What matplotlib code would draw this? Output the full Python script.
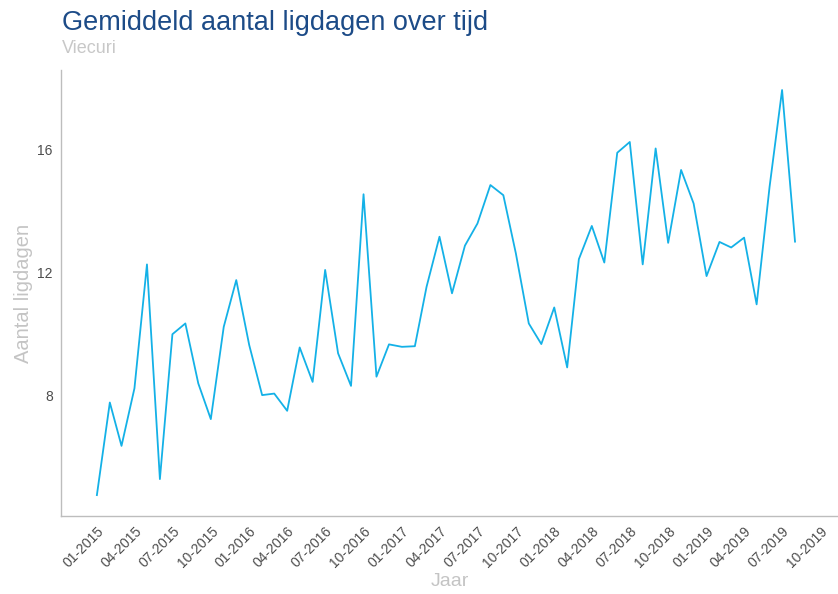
import numpy as np
import pandas as pd
import matplotlib
matplotlib.use('Agg')
import matplotlib.pyplot as plt
import matplotlib.dates as mdates

plt.rcParams['font.family'] = ['Liberation Sans', 'DejaVu Sans']

# maandelijks gemiddeld aantal ligdagen, 01-2015 t/m 08-2019
maanden = pd.date_range('2015-01-01', '2019-08-01', freq='MS')
ligdagen = [4.75, 7.76, 6.35, 8.22, 12.25, 5.27, 9.98, 10.33, 8.38, 7.22, 10.22, 11.74,
            9.63, 8.00, 8.05, 7.49, 9.55, 8.43, 12.07, 9.36, 8.30, 14.53, 8.60, 9.65,
            9.57, 9.59, 11.52, 13.15, 11.31, 12.86, 13.58, 14.83, 14.50, 12.61, 10.33, 9.66,
            10.85, 8.90, 12.42, 13.50, 12.31, 15.88, 16.23, 12.25, 16.02, 12.95, 15.32, 14.23,
            11.87, 12.98, 12.80, 13.12, 10.95, 14.77, 17.92, 12.99]
yticks = [8, 12, 16]
xticks = pd.date_range('2015-01-01', '2019-10-01', freq='3MS')

fig = plt.figure(figsize=(8.38, 5.94), dpi=100)
ax = fig.add_axes([61 / 838, 1 - 516 / 594, 1 - 61 / 838, (516 - 70) / 594])

ax.plot(maanden, ligdagen, color='#14b1e7', lw=1.3)

ax.set_xlim(maanden[0] - pd.Timedelta(days=86), maanden[-1] + pd.Timedelta(days=103))
ax.set_ylim(4.07, 18.57)
ax.set_yticks(yticks)
ax.set_xticks(xticks)
ax.xaxis.set_major_formatter(mdates.DateFormatter('%m-%Y'))
ax.tick_params(length=0, labelsize=10, labelcolor='#4d4d4d', pad=6)
for lab in ax.get_xticklabels():
    lab.set_rotation(45)
    lab.set_ha('right')
    lab.set_rotation_mode('anchor')

for s in ['top', 'right']:
    ax.spines[s].set_visible(False)
for s in ['left', 'bottom']:
    ax.spines[s].set_color('#bdbdbd')
    ax.spines[s].set_linewidth(1.0)

ax.set_xlabel('Jaar', color='#c4c4c4', fontsize=14, labelpad=2)
ax.set_ylabel('Aantal ligdagen', color='#c4c4c4', fontsize=14.5, labelpad=3)

fig.text(62 / 838, 1 - 30 / 594, 'Gemiddeld aantal ligdagen over tijd', color='#1c4b87',
         fontsize=19.5, ha='left', va='baseline')
fig.text(62 / 838, 1 - 53 / 594, 'Viecuri', color='#c8c8c8', fontsize=13, ha='left', va='baseline')

fig.savefig('out.png', dpi=100)
